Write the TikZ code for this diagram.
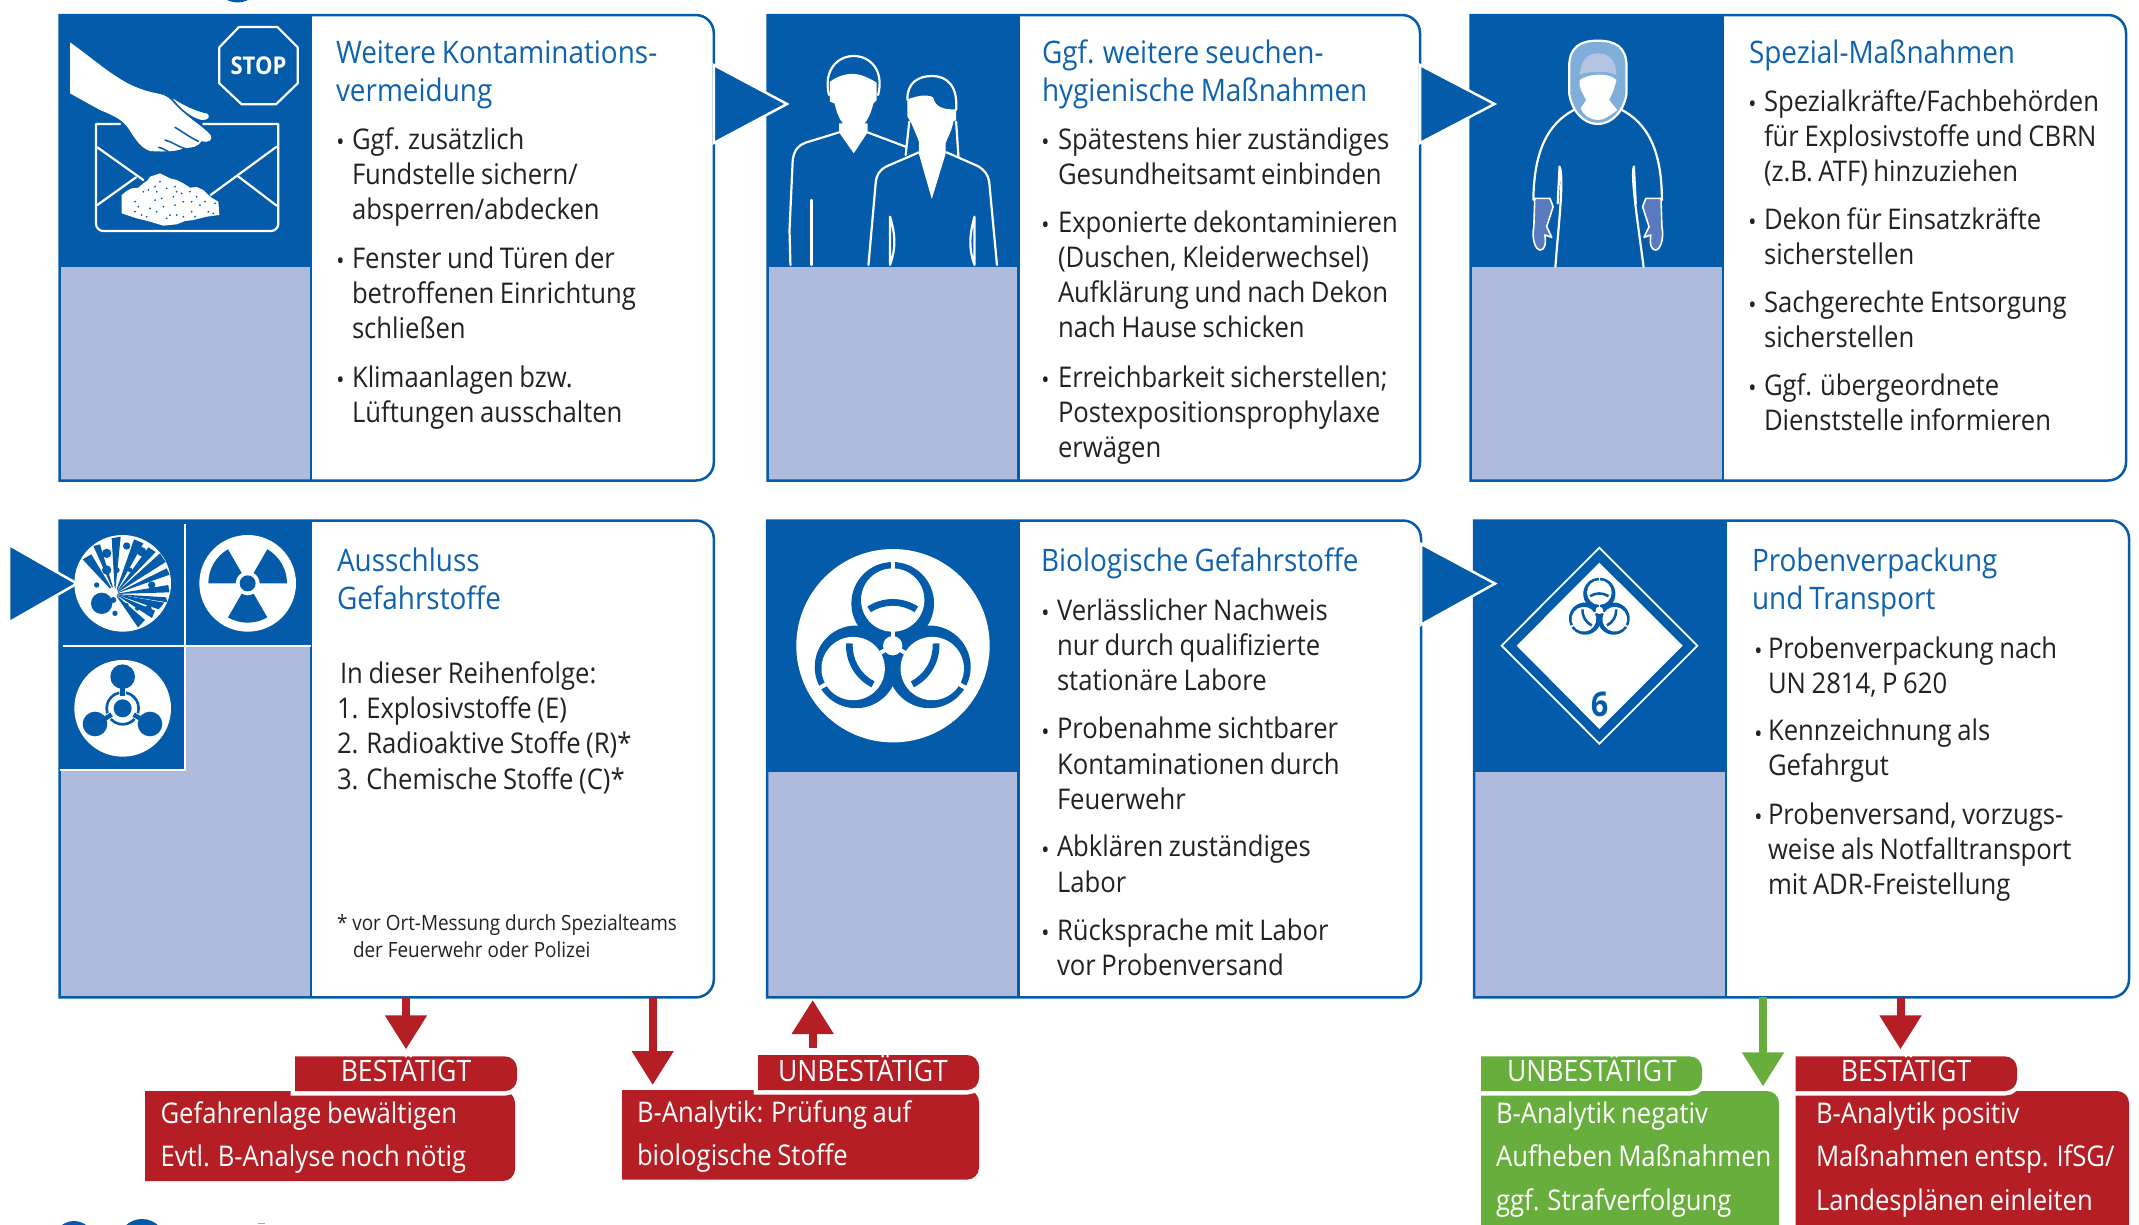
\documentclass[tikz,border=0pt]{standalone}
\usepackage{fontspec}
\setmainfont[FakeStretch=0.9]{Open Sans}
\usetikzlibrary{arrows.meta,calc}
\definecolor{mainblue}{HTML}{045BA9}
\definecolor{titleblue}{HTML}{0F62AE}
\definecolor{panel}{HTML}{AEBBDD}
\definecolor{dark}{HTML}{222221}
\definecolor{alarm}{HTML}{B41E24}
\definecolor{okgreen}{HTML}{67AE3D}
\definecolor{hoodblue}{HTML}{7FAEDB}
\definecolor{capblue}{HTML}{B5C4E2}
\definecolor{gloveblue}{HTML}{5A7ABF}
\newcommand{\bodyfont}{\fontsize{28.5}{35.3}\selectfont\fontdimen2\font 5.6pt\relax}
\newcommand{\headfont}{\fontsize{31}{38}\selectfont\fontdimen2\font 6pt\relax}
\tikzset{
  bodyt/.style={inner sep=0,outer sep=0,anchor=north west,align=left,text=dark,font=\bodyfont},
  titlet/.style={inner sep=0,outer sep=0,anchor=north west,align=left,text=titleblue,font=\headfont},
  notet/.style={inner sep=0,outer sep=0,anchor=north west,align=left,text=dark,font=\fontsize{21}{27}\selectfont},
  whitet/.style={inner sep=0,outer sep=0,anchor=north west,align=left,text=white,font=\fontsize{28.5}{43.5}\selectfont},
  capt/.style={inner sep=0,outer sep=0,text=white,font=\fontsize{29.5}{30}\selectfont},
  fatarrow/.style={line width=8pt,-{Triangle[length=34pt,width=40pt]},#1},
  iconline/.style={draw=white,line width=2.2pt,line cap=round,line join=round},
  flowtip/.style={fill=mainblue,draw=white,line width=2.5pt,line join=miter},
  boxline/.style={draw=mainblue,line width=2.5pt},
  halo/.style={preaction={draw=white,line width=9pt}},
}
% box with rounded right corners: path only
\newcommand{\rpath}[4]{(#1,#2) -- ({#3-18},#2) arc[start angle=-90,end angle=0,radius=18] -- (#3,{#4-18}) arc[start angle=0,end angle=90,radius=18] -- (#1,#4) -- cycle}
\newcommand{\spath}[4]{(#1,#2) -- ({#3-12},#2) arc[start angle=-90,end angle=0,radius=12] -- (#3,{#4-12}) arc[start angle=0,end angle=90,radius=12] -- (#1,#4) -- cycle}
\newcommand{\anchornode}[5]{%
  \pgfmathsetmacro\bxc{(#2+#4)/2}\pgfmathsetmacro\byc{(#3+#5)/2}%
  \pgfmathsetmacro\bxw{#4-#2}\pgfmathsetmacro\byh{#5-#3}%
  \node[inner sep=0,outer sep=0,minimum width=\bxw pt,minimum height=\byh pt] (#1) at (\bxc,\byc) {};}
\newcommand{\evbox}[7]{%
  \anchornode{#1}{#2}{#3}{#4}{#5}%
  \fill[white] \rpath{#2}{#3}{#4}{#5};
  \fill[panel] (#2,#3) rectangle (#6,#5);
  \fill[mainblue] (#2,#3) rectangle (#6,#7);
  \draw[boxline] \rpath{#2}{#3}{#4}{#5};
  \draw[boxline] (#6,#3) -- (#6,#5);}
\newcommand{\softbox}[6]{%
  \anchornode{#1}{#2}{#3}{#4}{#5}%
  \fill[#6] \spath{#2}{#3}{#4}{#5};}
\newcommand{\bodytx}[4]{\pgfmathsetmacro\ytp{#3-24.7}\node[bodyt] (#1) at (#2,\ytp) {\rule{0pt}{24.7pt}#4};}
\newcommand{\titletx}[4]{\pgfmathsetmacro\ytp{#3-26.6}\node[titlet] (#1) at (#2,\ytp) {\rule{0pt}{26.6pt}#4};}
\newcommand{\whitetx}[4]{\pgfmathsetmacro\ytp{#3-30}\node[whitet] (#1) at (#2,\ytp) {\rule{0pt}{30pt}#4};}
\newcommand{\bul}[1]{\llap{\raisebox{-1.5pt}{\fontsize{24}{24}\selectfont •}\kern#1pt}}
\newcommand{\annul}[7]{\fill[#7] ($(#1,#2)+(#3:#6)$) arc[start angle=#3,end angle=#4,radius=#6] -- ($(#1,#2)+(#4:#5)$) arc[start angle=#4,end angle=#3,radius=#5] -- cycle;}
\newcommand{\biosym}{%
  \foreach \r in {0,120,240}{\fill[mainblue,rotate=\r] (0,-127) circle[radius=124];}
  \foreach \r in {0,120,240}{\fill[white,rotate=\r] (0,-137) circle[radius=95];}
  \foreach \r in {0,120,240}{\begin{scope}[rotate=\r]
    \annul{0}{0}{-123}{-57}{120}{140}{mainblue}
    \fill[white] (-6,-262) rectangle (6,-225);
    \fill[white] (-6,-55) rectangle (6,-20);
  \end{scope}}
  \fill[white] (0,0) circle[radius=29];}
\begin{document}
\begin{tikzpicture}[x=1pt,y=1pt,yscale=-1]
\clip (0,0) rectangle (2139,1224);
\fill[white] (0,0) rectangle (2139,1224);
% fragments cut by the picture edge
\fill[mainblue] (237.5,-20.5) circle[radius=23];
\fill[mainblue] (74,1241) circle[radius=20];
\fill[mainblue] (142,1243) circle[radius=24];
\fill[hoodblue] (258,1222.5) rectangle (265,1224);
% ---- boxes
\evbox{box1}{59.7}{15}{713.8}{480.5}{311}{266.5}
\evbox{box2}{767.7}{15}{1420}{480.5}{1018.5}{266.5}
\evbox{box3}{1470.7}{15}{2126}{480.5}{1723}{266.5}
\evbox{box4}{59.7}{520.5}{713.8}{997.4}{311}{645.5}
\evbox{box5}{767}{520.5}{1421}{997.4}{1018.5}{772.3}
\evbox{box6}{1474}{520.5}{2129}{997.4}{1726}{772.3}
% ---- icon: hand, letter, stop sign
\begin{scope}[shift={(60,15)},scale=1/3]
  \draw[iconline] (180,327) -- (108,327) -- (108,626) arc[start angle=180,end angle=90,radius=22] -- (633,648) arc[start angle=90,end angle=0,radius=22] -- (655,327) -- (430,327);
  \draw[iconline] (112,397) -- (250,495);
  \draw[iconline] (650,395) -- (452,540);
  \draw[iconline] (112,570) -- (228,487);
  \draw[iconline] (533,483) -- (650,572);
  \fill[white] (185,540) -- (200,528) -- (215,520) -- (235,518) -- (250,505) -- (262,497) -- (270,485) -- (300,475) -- (330,490) -- (350,495) -- (370,505) -- (390,518) -- (410,516) -- (430,525) -- (450,545) -- (475,560) -- (478,600) -- (440,605) -- (400,615) -- (375,618) -- (350,628) -- (310,632) -- (270,620) -- (230,610) -- (185,595) -- cycle;
  \foreach \a/\b in {225/560,235/575,225/590,250/530,265/525,285/515,300/500,290/530,320/520,345/515,350/530,285/555,305/550,340/545,365/535,390/530,410/545,395/560,370/560,345/570,310/575,270/580,290/590,245/600,260/605,330/600,350/600,370/605,395/590,420/570,435/560,445/590,465/565,460/595,405/605,320/610}
    {\fill[mainblue] (\a,\b) circle[radius=3];}
  \fill[white] (30,82) .. controls (90,125) and (130,160) .. (170,185) .. controls (210,212) and (250,228) .. (300,237) .. controls (320,242) and (330,250) .. (345,268) .. controls (385,310) and (430,335) .. (452,360) .. controls (460,375) and (445,385) .. (425,378) .. controls (415,395) and (395,400) .. (372,398) .. controls (360,408) and (320,412) .. (270,408) .. controls (240,398) and (225,370) .. (205,340) .. controls (190,318) and (170,305) .. (120,285) -- (30,235) -- cycle;
  \fill[white] (338,250) .. controls (370,272) and (410,290) .. (442,296) .. controls (452,305) and (445,316) .. (425,315) .. controls (395,308) and (365,285) .. (338,250) -- cycle;
  \draw[mainblue,line width=1.5pt,line cap=round] (345,337) .. controls (370,352) and (395,370) .. (415,379);
  \draw[mainblue,line width=1.5pt,line cap=round] (315,375) .. controls (335,380) and (355,395) .. (372,400);
  \draw[mainblue,line width=1.5pt,line cap=round] (296,397) .. controls (305,398) and (315,405) .. (325,410);
  \draw[iconline] (537,36) -- (652,36) -- (713,97) -- (713,205) -- (648,268) -- (545,268) -- (478,205) -- (478,97) -- cycle;
\end{scope}
\node[inner sep=0,text=white,font=\fontsize{24.5}{24.5}\selectfont\bfseries] (stoptxt) at (258.5,65.5) {STOP};
% ---- icon: two persons
\begin{scope}[shift={(700,0)},xscale=0.459,yscale=1/3]
  \draw[iconline] (281,285) .. controls (268,210) and (300,168) .. (335,168) .. controls (370,168) and (402,210) .. (388,285);
  \fill[white] (283,270) -- (283,245) .. controls (300,228) and (320,220) .. (335,222) .. controls (350,222) and (370,235) .. (385,248) -- (385,300) -- (378,310) .. controls (370,350) and (360,385) .. (335,385) .. controls (310,385) and (300,350) .. (293,310) -- (283,305) -- cycle;
  \fill[white] (303,370) -- (303,397) -- (335,460) -- (365,397) -- (365,370) -- cycle;
  \draw[iconline] (197,795) -- (195,690) -- (202,480) .. controls (205,450) and (215,435) .. (230,428) -- (303,397);
  \draw[iconline] (365,397) -- (448,440);
  \draw[iconline] (243,795) -- (243,600);
  \draw[iconline] (452,300) .. controls (450,250) and (475,228) .. (505,228) .. controls (540,228) and (562,260) .. (558,330);
  \fill[white] (452,298) .. controls (470,290) and (490,280) .. (508,292) .. controls (512,320) and (530,330) .. (558,328) -- (558,360) -- (552,365) .. controls (548,395) and (540,410) .. (535,430) -- (535,462) -- (505,597) -- (477,462) -- (477,425) .. controls (470,400) and (465,385) .. (460,368) -- (452,350) -- cycle;
  \draw[iconline] (456,365) -- (448,465);
  \draw[iconline] (558,365) -- (563,470);
  \draw[iconline] (477,457) -- (405,500) .. controls (390,512) and (385,525) .. (383,545) -- (367,795);
  \draw[iconline] (537,457) -- (605,498) .. controls (620,510) and (628,525) .. (630,545) -- (647,795);
  \draw[iconline] (414,650) -- (414,795) .. controls (428,740) and (425,700) .. (414,650);
  \draw[iconline] (598,650) -- (598,795) .. controls (584,740) and (588,700) .. (598,650);
\end{scope}
% ---- icon: protective suit
\begin{scope}[shift={(1420,0)},xscale=0.459,yscale=1/3]
  \draw[iconline] (335,330) .. controls (280,370) and (248,450) .. (247,600);
  \draw[iconline] (440,330) .. controls (495,370) and (527,450) .. (527,600);
  \draw[iconline,fill=hoodblue] (325,200) .. controls (325,140) and (350,122) .. (387,122) .. controls (425,122) and (450,140) .. (450,200) -- (450,280) .. controls (445,330) and (420,372) .. (387,372) .. controls (355,372) and (330,330) .. (325,280) -- cycle;
  \fill[capblue] (348,225) .. controls (350,180) and (365,160) .. (387,160) .. controls (410,160) and (428,180) .. (428,225) .. controls (410,212) and (365,212) .. (348,225) -- cycle;
  \fill[white] (348,240) .. controls (365,222) and (410,215) .. (428,240) -- (422,270) -- (412,300) -- (430,330) .. controls (415,345) and (400,362) .. (387,360) .. controls (372,360) and (355,345) .. (350,325) -- (362,300) .. controls (355,280) and (345,265) .. (348,240) -- cycle;
  \draw[iconline] (304,500) .. controls (315,530) and (300,700) .. (295,800);
  \draw[iconline] (304,500) -- (300,610);
  \draw[iconline] (466,500) .. controls (458,530) and (478,700) .. (487,800);
  \draw[iconline] (466,500) -- (470,610);
  \draw[iconline,fill=gloveblue,line width=1.6pt] (250,595) -- (283,595) -- (290,620) -- (276,680) -- (287,712) -- (272,705) .. controls (275,730) and (272,750) .. (262,750) .. controls (250,750) and (243,710) .. (248,680) -- cycle;
  \draw[iconline,fill=gloveblue,line width=1.6pt] (525,595) -- (492,595) -- (485,620) -- (499,680) -- (488,712) -- (503,705) .. controls (500,730) and (503,750) .. (513,750) .. controls (525,750) and (532,710) .. (527,680) -- cycle;
\end{scope}
% ---- icons: explosive, radioactive, chemical cells
\fill[mainblue] (58.5,640) rectangle (185,770);
\begin{scope}[shift={(60,520)},scale=1/3]
  \fill[white] (188,190) circle[radius=145];
  \foreach \p/\q/\s in {68/118/{94,103},100/78/{120,73},155/55/{182,50},222/58/{250,70},265/82/{287,96},300/100/{317,126},320/145/{329,164},325/195/{328,217},318/232/{322,247},313/248/{296,268},285/272/{276,294},255/300/{234,322}}
    {\fill[mainblue] (\p,\q) -- (\s) -- (165,222) -- cycle;}
  \fill[white] (158,218) circle[radius=16];
  \fill[mainblue] (125,250) circle[radius=32];
  \foreach \a/\b/\c in {140/100/14,200/78/11,245/95/14,170/150/9,210/150/7,140/150/14,275/195/11,265/265/10,232/265/7,200/255/6,165/280/8,110/195/8,130/232/10,160/240/9}
    {\fill[mainblue] (\a,\b) circle[radius=\c];}
  \fill[white] (563,190) circle[radius=145];
  \annul{563}{190}{-180}{-120}{36}{118}{mainblue}
  \annul{563}{190}{-60}{0}{36}{118}{mainblue}
  \annul{563}{190}{60}{120}{36}{118}{mainblue}
  \fill[mainblue] (563,190) circle[radius=24];
  \fill[white] (188,565) circle[radius=145];
  \fill[mainblue] (188,470) circle[radius=37];
  \fill[mainblue] (105,612) circle[radius=37];
  \fill[mainblue] (270,612) circle[radius=37];
  \foreach \r in {-90,30,150}{\draw[mainblue,line width=4.6pt] ($(188,565)+(\r:38)$) -- ($(188,565)+(\r:75)$);}
  \annul{188}{565}{-78}{18}{44}{52}{mainblue}
  \annul{188}{565}{42}{138}{44}{52}{mainblue}
  \annul{188}{565}{162}{258}{44}{52}{mainblue}
  \fill[mainblue] (188,565) circle[radius=27];
\end{scope}
\draw[white,line width=2pt] (185.3,523.5) -- (185.3,770) -- (60,770);
\draw[white,line width=2pt] (63,646) -- (311,646);
% ---- icon: biohazard
\fill[white] (893,645.7) circle[radius=96.7];
\begin{scope}[shift={(892.7,645.7)},scale=1/3]
  \biosym
\end{scope}
% ---- icon: hazard diamond
\begin{scope}[shift={(1480,525)},scale=1/3]
  \draw[white,line width=1.8pt,line join=miter] (358,68) -- (652,362) -- (358,656) -- (65,362) -- cycle;
  \fill[white] (358,113) -- (608,362) -- (358,612) -- (110,362) -- cycle;
  \begin{scope}[shift={(358,256)},scale=0.39]
    \biosym
  \end{scope}
\end{scope}
\node[inner sep=0,text=mainblue,font=\fontsize{34}{34}\selectfont\bfseries] (six) at (1599.5,704) {6};
% ---- texts, row 1
\titletx{t1}{336}{63}{Weitere Kontaminations-\\vermeidung}
\bodytx{b1a}{352}{149}{\bul{7.5}Ggf. zusätzlich\\Fundstelle sichern/\\absperren/abdecken}
\bodytx{b1b}{352}{268}{\bul{7.5}Fenster und Türen der\\betroffenen Einrichtung\\schließen}
\bodytx{b1c}{352}{387}{\bul{7.5}Klimaanlagen bzw.\\Lüftungen ausschalten}
\titletx{t2}{1042}{63}{Ggf. weitere seuchen-\\hygienische Maßnahmen}
\bodytx{b2a}{1058}{149}{\bul{8.5}Spätestens hier zuständiges\\Gesundheitsamt einbinden}
\bodytx{b2b}{1058}{232}{\bul{8.5}Exponierte dekontaminieren\\(Duschen, Kleiderwechsel)\\Aufklärung und nach Dekon\\nach Hause schicken}
\bodytx{b2c}{1058}{387}{\bul{8.5}Erreichbarkeit sicherstellen;\\Postexpositionsprophylaxe\\erwägen}
\titletx{t3}{1749}{63}{Spezial-Maßnahmen}
\bodytx{b3a}{1764}{111}{\bul{7.5}Spezialkräfte/Fachbehörden\\für Explosivstoffe und CBRN\\(z.B. ATF) hinzuziehen}
\bodytx{b3b}{1764}{229}{\bul{7.5}Dekon für Einsatzkräfte\\sicherstellen}
\bodytx{b3c}{1764}{312}{\bul{7.5}Sachgerechte Entsorgung\\sicherstellen}
\bodytx{b3d}{1764}{395}{\bul{7.5}Ggf. übergeordnete\\Dienststelle informieren}
% ---- texts, row 2
\titletx{t4}{337}{571.6}{Ausschluss\\Gefahrstoffe}
\bodytx{b4a}{340}{683.3}{In dieser Reihenfolge:}
\bodytx{b4b}{337}{718.4}{1. Explosivstoffe (E)\\2. Radioaktive Stoffe (R)*\\3. Chemische Stoffe (C)*}
\node[notet] (n4) at (337,911.8) {\rule{0pt}{19pt}* vor Ort-Messung durch Spezialteams\\\hspace*{16pt}der Feuerwehr oder Polizei};
\titletx{t5}{1041}{571.6}{Biologische Gefahrstoffe}
\bodytx{b5a}{1057}{620}{\bul{7.5}Verlässlicher Nachweis\\nur durch qualifizierte\\stationäre Labore}
\bodytx{b5b}{1057}{738.7}{\bul{7.5}Probenahme sichtbarer\\Kontaminationen durch\\Feuerwehr}
\bodytx{b5c}{1057}{856.9}{\bul{7.5}Abklären zuständiges\\Labor}
\bodytx{b5d}{1057}{940}{\bul{7.5}Rücksprache mit Labor\\vor Probenversand}
\titletx{t6}{1752}{571.6}{Probenverpackung\\und Transport}
\bodytx{b6a}{1768}{658}{\bul{5.5}Probenverpackung nach\\UN 2814, P 620}
\bodytx{b6b}{1768}{740.5}{\bul{5.5}Kennzeichnung als\\Gefahrgut}
\bodytx{b6c}{1768}{824}{\bul{5.5}Probenversand, vorzugs-\\weise als Notfalltransport\\mit ADR-Freistellung}
% ---- result boxes and labels
\softbox{res1}{145}{1091}{515}{1181}{alarm}
\softbox{lab1}{295}{1056.4}{517}{1091}{alarm,halo}
\softbox{res2}{622}{1090}{979}{1179.6}{alarm}
\softbox{lab2}{758}{1055}{979}{1090}{alarm,halo}
\softbox{res3}{1481}{1091}{1779}{1260}{okgreen}
\softbox{lab3}{1481}{1056.4}{1702}{1091}{okgreen,halo}
\softbox{res4}{1795.5}{1091}{2129}{1260}{alarm}
\softbox{lab4}{1795.5}{1056.4}{2017}{1091}{alarm,halo}
\node[capt,anchor=base] (cap1) at (406,1081.8) {BESTÄTIGT};
\node[capt,anchor=base] (cap2) at (863,1081) {UNBESTÄTIGT};
\node[capt,anchor=base] (cap3) at (1592,1081.8) {UNBESTÄTIGT};
\node[capt,anchor=base] (cap4) at (1906,1081.8) {BESTÄTIGT};
\whitetx{w1}{160.5}{1123.3}{Gefahrenlage bewältigen\\Evtl. B-Analyse noch nötig}
\whitetx{w2}{637}{1122.4}{B-Analytik: Prüfung auf\\biologische Stoffe}
\whitetx{w3}{1496}{1123.3}{B-Analytik negativ\\Aufheben Maßnahmen\\ggf. Strafverfolgung}
\whitetx{w4}{1816}{1123.3}{B-Analytik positiv\\Maßnahmen entsp. IfSG/\\Landesplänen einleiten}
% ---- connectors
\draw[fatarrow=alarm] (box4.south -| lab1.north) -- ([yshift=-7pt]lab1.north);
\coordinate (r2top) at ($(res2.north west)+(30.7,0)$);
\draw[fatarrow=alarm] (box4.south -| r2top) -- ([yshift=-5pt]r2top);
\coordinate (l2top) at ($(lab2.north west)+(54.7,0)$);
\draw[fatarrow=alarm] ([yshift=-7pt]l2top) -- ([yshift=2.6pt]box5.south -| l2top);
\coordinate (r3top) at ($(res3.north east)+(-16,0)$);
\draw[fatarrow=okgreen] (box6.south -| r3top) -- ([yshift=-4.6pt]r3top);
\coordinate (l4top) at ($(lab4.north west)+(105,0)$);
\draw[fatarrow=alarm] (box6.south -| l4top) -- ([yshift=-7pt]l4top);
% ---- flow triangles
\coordinate (start4) at (9,583.6);
\path[flowtip] (box1.east |- 0,65) -- ($(box2.west |- 0,104)+(19.3,0)$) -- (box1.east |- 0,143) -- cycle;
\path[flowtip] (box2.east |- 0,65) -- ($(box3.west |- 0,104)+(23.8,0)$) -- (box2.east |- 0,143) -- cycle;
\path[flowtip] (start4 |- 0,544.8) -- ($(box4.west |- start4)+(17.3,0)$) -- (start4 |- 0,622.4) -- cycle;
\path[flowtip] (box5.east |- 0,543.9) -- ($(box6.west |- 0,583.6)+(21,0)$) -- (box5.east |- 0,624.7) -- cycle;
\end{tikzpicture}
\end{document}
